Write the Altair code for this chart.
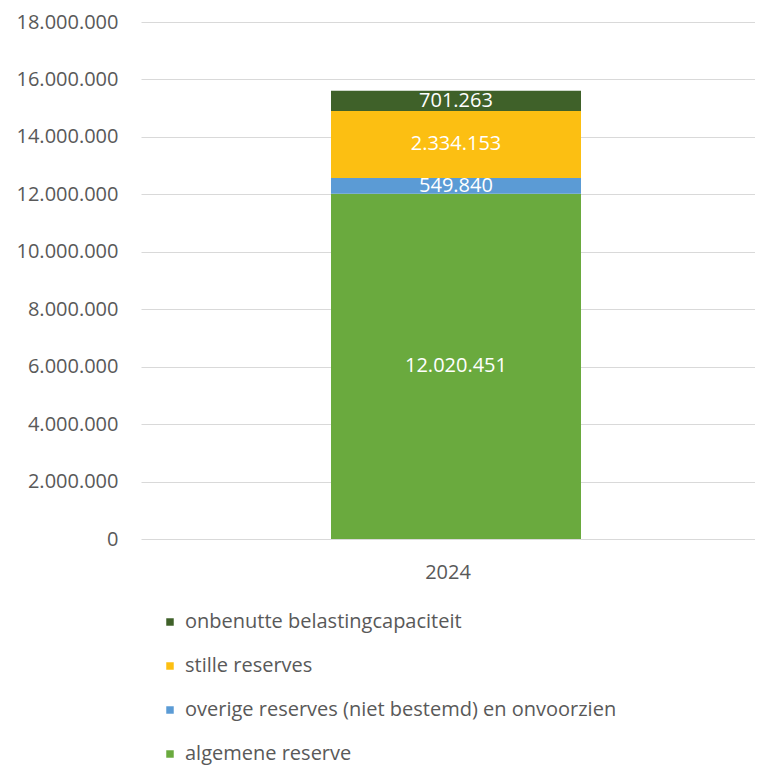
import altair as alt
import pandas as pd

years = ["2024"] * 4
categories = [
    "algemene reserve",
    "overige reserves (niet bestemd) en onvoorzien",
    "stille reserves",
    "onbenutte belastingcapaciteit",
]
values = [12020451, 549840, 2334153, 701263]
stack_order = [0, 1, 2, 3]
legend_order = [
    "onbenutte belastingcapaciteit",
    "stille reserves",
    "overige reserves (niet bestemd) en onvoorzien",
    "algemene reserve",
]
colors = ["#3f6129", "#fcbf12", "#5b9bd5", "#6aaa3e"]

df = pd.DataFrame({"year": years, "cat": categories, "value": values, "ord": stack_order})

FONT = "Open Sans"
fmt = "replace(format(datum.value, ','), regexp(',', 'g'), '.')"

base = alt.Chart(df).transform_stack(
    stack="value", as_=["y0", "y1"], groupby=["year"], sort=[alt.SortField("ord")]
).transform_calculate(
    mid="(datum.y0 + datum.y1) / 2",
    label="replace(format(datum.value, ','), regexp(',', 'g'), '.')",
)

x_enc = alt.X(
    "year:N",
    title=None,
    axis=alt.Axis(labelAngle=0, ticks=False, domain=False, grid=False, labelPadding=23,
                  labelFontSize=20, labelColor="#595959", labelFont=FONT),
)

bars = base.mark_bar(size=250, xOffset=8).encode(
    x=x_enc,
    y=alt.Y(
        "y0:Q",
        title=None,
        scale=alt.Scale(domain=[0, 18000000], nice=False),
        axis=alt.Axis(values=list(range(0, 18000001, 2000000)), labelExpr=fmt,
                      ticks=False, domain=False, labelPadding=23, labelFontSize=20,
                      labelColor="#595959", labelFont=FONT, gridColor="#d9d9d9",
                      gridWidth=1),
    ),
    y2="y1:Q",
    color=alt.Color(
        "cat:N",
        scale=alt.Scale(domain=legend_order, range=colors),
        legend=alt.Legend(
            title=None, orient="none", legendX=19, legendY=590, direction="vertical",
            symbolType="square", symbolSize=56, symbolStrokeWidth=0,
            labelFontSize=20, labelColor="#595959", labelFont=FONT,
            labelOffset=5, rowPadding=24, labelLimit=600,
        ),
    ),
    order=alt.Order("ord:Q"),
)

texts = base.mark_text(color="white", fontSize=20, font=FONT, baseline="middle", xOffset=8).encode(
    x=alt.X("year:N"),
    y=alt.Y("mid:Q"),
    text="label:N",
)

chart = (
    alt.layer(bars, texts)
    .properties(
        width=614,
        height=517,
        background="white",
        autosize=alt.AutoSizeParams(type="none"),
        padding={"left": 133, "top": 14, "right": 0, "bottom": 226},
    )
    .configure_view(strokeWidth=0)
    .configure_axis(domain=False)
    .configure_axisX(grid=False)
)

chart.save("out.html", embed_options={"renderer": "svg", "actions": False})
